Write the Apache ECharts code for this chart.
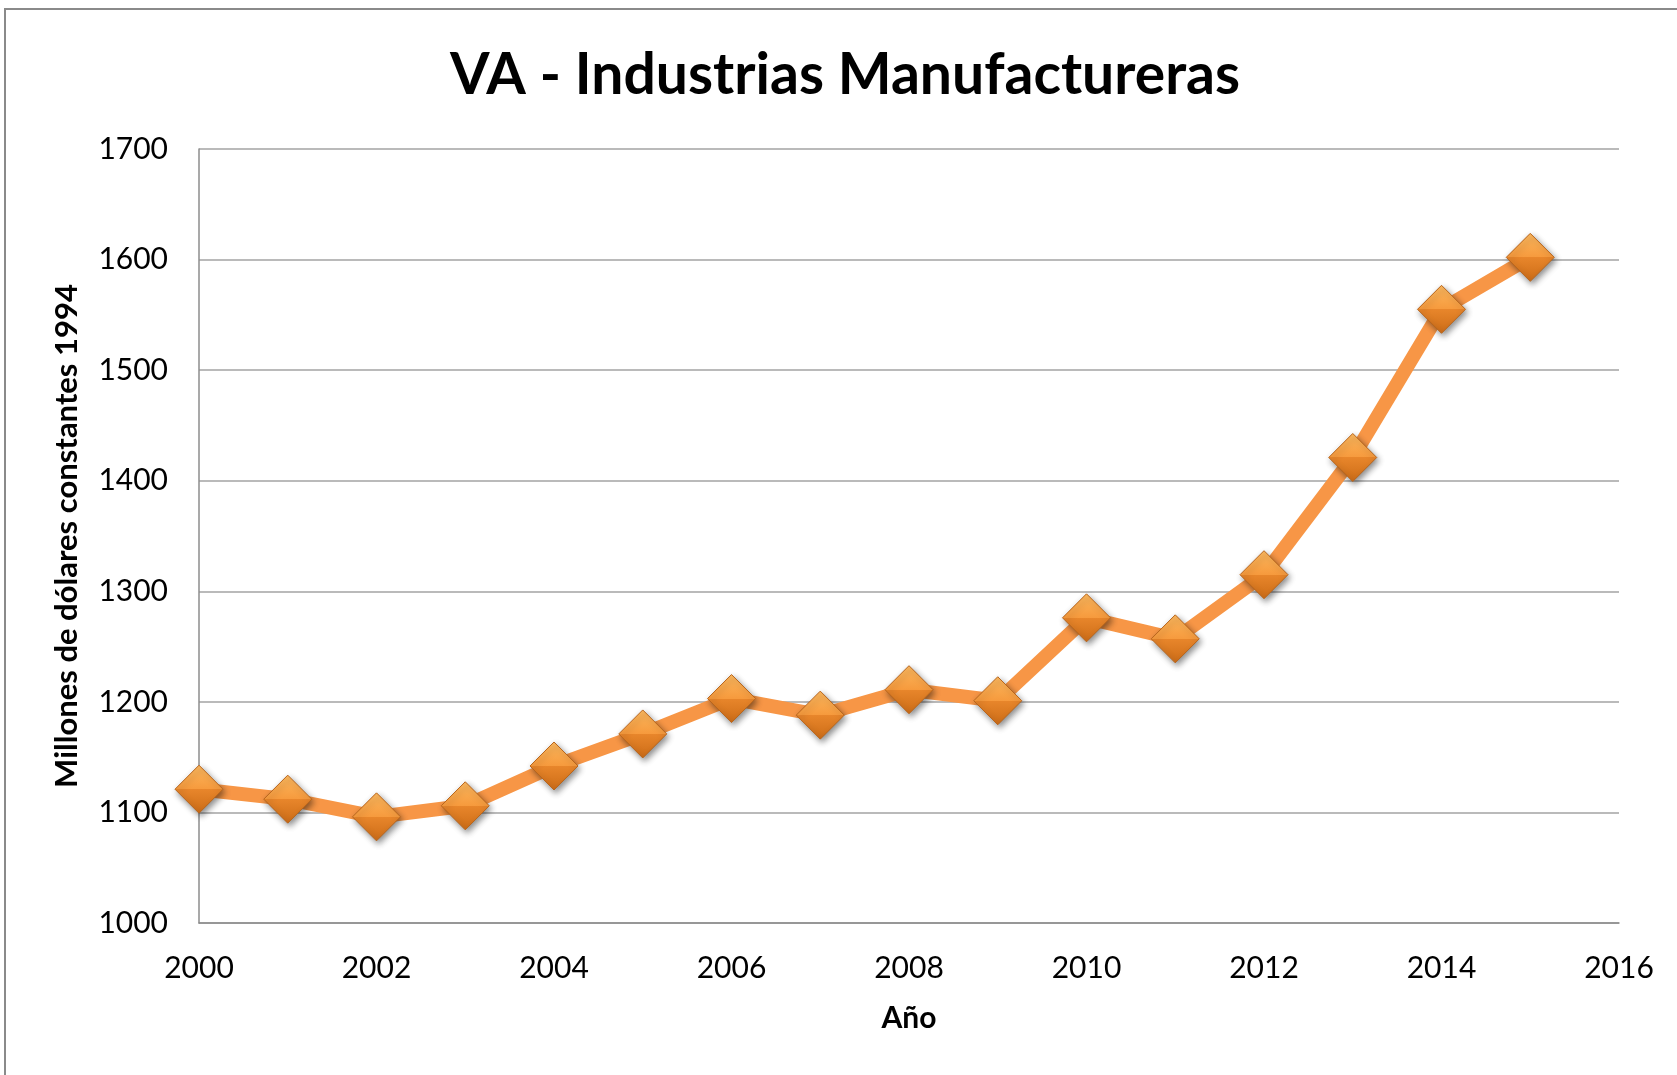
<!DOCTYPE html>
<html>
<head>
<meta charset="utf-8">
<script src="https://cdn.jsdelivr.net/npm/echarts@6/dist/echarts.min.js"></script>
<style>
  html, body { margin: 0; padding: 0; background: #fff; overflow: hidden; }
  #chart { width: 1690px; height: 1075px; }
</style>
</head>
<body>
<div id="chart"></div>
<script>
const years = [2000, 2001, 2002, 2003, 2004, 2005, 2006, 2007, 2008, 2009, 2010, 2011, 2012, 2013, 2014, 2015]
const values = [1121, 1112, 1096, 1106, 1142, 1171, 1203, 1188, 1211, 1201, 1276, 1257, 1315, 1421, 1555, 1602]
const yTicks = { min: 1000, max: 1700, step: 100 }
const xTicks = { min: 2000, max: 2016, step: 2 }

const chart = echarts.init(document.getElementById('chart'), null, { renderer: 'canvas' })

const labelFont = { fontFamily: 'Lato', color: '#000' }
const plain = (v) => String(v)

chart.setOption({
  backgroundColor: '#fff',
  animation: false,
  title: {
    text: 'VA - Industrias Manufactureras',
    left: 'center',
    top: 42,
    textStyle: { fontFamily: 'Lato', fontWeight: 'bold', fontSize: 57, color: '#000' },
  },
  // outer chart frame (runs past the right and bottom edge, like the reference)
  graphic: [{
    type: 'rect',
    shape: { x: 5, y: 9, width: 1700, height: 1100 },
    style: { fill: 'none', stroke: '#8a8a8a', lineWidth: 2 },
    silent: true,
  }],
  grid: { left: 199, right: 71, top: 149, bottom: 152 },
  xAxis: {
    type: 'value',
    min: xTicks.min,
    max: xTicks.max,
    interval: xTicks.step,
    name: 'Año',
    nameLocation: 'middle',
    nameGap: 80,
    nameTextStyle: { ...labelFont, fontWeight: 'bold', fontSize: 30 },
    axisLine: { lineStyle: { color: '#8c8c8c', width: 1.5 } },
    axisTick: { show: false },
    splitLine: { show: false },
    axisLabel: { ...labelFont, fontSize: 30, margin: 30, formatter: plain, showMinLabel: true, showMaxLabel: true },
  },
  yAxis: {
    type: 'value',
    min: yTicks.min,
    max: yTicks.max,
    interval: yTicks.step,
    name: 'Millones de dólares constantes 1994',
    nameLocation: 'middle',
    nameGap: 117,
    nameTextStyle: { ...labelFont, fontWeight: 'bold', fontSize: 31 },
    axisLine: { show: true, lineStyle: { color: '#8c8c8c', width: 1.5 } },
    axisTick: { show: false },
    splitLine: { lineStyle: { color: '#a3a3a3', width: 1.5 } },
    axisLabel: { ...labelFont, fontSize: 30, margin: 31, formatter: plain },
  },
  series: [{
    type: 'line',
    data: years.map((y, i) => [y, values[i]]),
    lineStyle: { color: '#F79646', width: 14 },
    symbol: 'diamond',
    symbolSize: 48,
    itemStyle: {
      color: new echarts.graphic.LinearGradient(0, 0, 0, 1, [
        { offset: 0, color: '#FBB85F' },
        { offset: 0.5, color: '#F69A3D' },
        { offset: 0.5, color: '#E8862B' },
        { offset: 1, color: '#CC6C17' },
      ]),
      borderColor: '#B8651C',
      borderWidth: 1,
      shadowColor: 'rgba(0,0,0,0.45)',
      shadowBlur: 6,
      shadowOffsetX: 2,
      shadowOffsetY: 3,
    },
  }],
})
</script>
</body>
</html>
